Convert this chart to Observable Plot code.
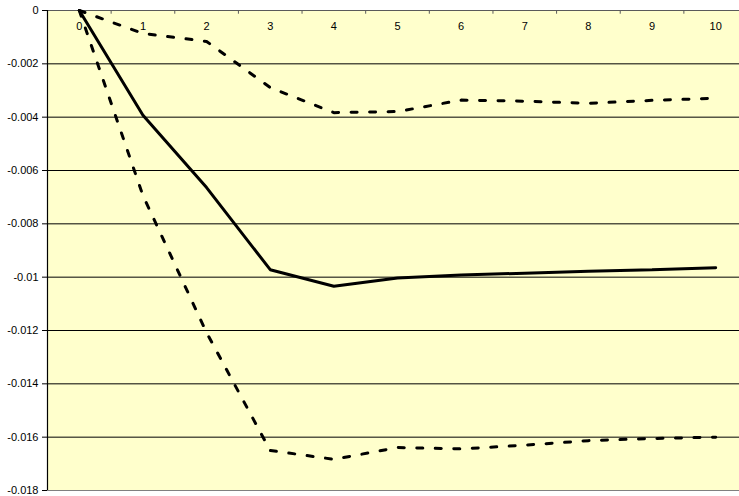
<!DOCTYPE html>
<html>
<head>
<meta charset="utf-8">
<script src="https://cdn.jsdelivr.net/npm/d3@7"></script>
<script src="https://cdn.jsdelivr.net/npm/@observablehq/plot@0.6"></script>
<style>
  html, body { margin: 0; padding: 0; background: #ffffff; }
  #chart svg { display: block; }
</style>
</head>
<body>
<div id="chart"></div>
<script>
// Periods (category axis at top)
const periods = [0, 1, 2, 3, 4, 5, 6, 7, 8, 9, 10];
const periodLabels = ["0", "1", "2", "3", "4", "5", "6", "7", "8", "9", "10"];
// Central response (solid)
const central = [0, -0.00393, -0.00664, -0.00972, -0.01034, -0.01003, -0.00992, -0.00985, -0.00978, -0.00972, -0.00965];
// Upper band (dashed)
const upper = [0, -0.00086, -0.00116, -0.00289, -0.00383, -0.00379, -0.00336, -0.0034, -0.00348, -0.00337, -0.00329];
// Lower band (dashed)
const lower = [0, -0.00694, -0.01208, -0.0165, -0.01683, -0.01639, -0.01644, -0.0163, -0.01613, -0.01605, -0.016];
// Y ticks
const yTicks = [0, -0.002, -0.004, -0.006, -0.008, -0.01, -0.012, -0.014, -0.016, -0.018];
const yTickLabels = ["0", "-0.002", "-0.004", "-0.006", "-0.008", "-0.01", "-0.012", "-0.014", "-0.016", "-0.018"];

const boundaries = periods.slice(0, -1).map(p => p + 0.5);
const gridTicks = yTicks.filter(v => v !== 0 && v !== -0.018);

const toRows = arr => periods.map((p, i) => ({x: p, y: arr[i]}));

const chart = Plot.plot({
  width: 739,
  height: 496,
  marginLeft: 47,
  marginRight: 0,
  marginTop: 10,
  marginBottom: 6,
  style: {fontFamily: "Arial, 'Liberation Sans', sans-serif", fontSize: "11px", color: "#000", background: "#ffffff"},
  x: {domain: [-0.5, 10.5], range: [47, 747], axis: null},
  y: {domain: [-0.018, 0], axis: null},
  marks: [
    Plot.frame({fill: "#FFFFCC", stroke: "none"}),
    Plot.ruleY(gridTicks, {stroke: "#000", strokeWidth: 1}),
    Plot.ruleY([-0.018], {stroke: "#808080", strokeWidth: 1}),
    Plot.ruleY([0], {stroke: "#5a5a5a", strokeWidth: 1.2}),
    Plot.ruleX(boundaries, {x: d => d, y1: 0, y2: -0.00014, stroke: "#5a5a5a", strokeWidth: 1}),
    Plot.ruleX([-0.5], {stroke: "#000", strokeWidth: 1.2}),
    Plot.axisY({ticks: yTicks, tickFormat: (d, i) => yTickLabels[yTicks.indexOf(d)], tickSize: 5, tickPadding: 4, stroke: "#000", fill: "#000", label: null}),
    Plot.text(periods, {x: d => d, y: 0, dy: 16, text: (d, i) => periodLabels[i], fill: "#000"}),
    Plot.line(toRows(upper), {x: "x", y: "y", stroke: "#000", strokeWidth: 3, strokeDasharray: "6,12.5", strokeLinejoin: "miter"}),
    Plot.line(toRows(lower), {x: "x", y: "y", stroke: "#000", strokeWidth: 3, strokeDasharray: "6,12.5", strokeLinejoin: "miter"}),
    Plot.line(toRows(central), {x: "x", y: "y", stroke: "#000", strokeWidth: 3, strokeLinejoin: "miter"})
  ]
});
document.getElementById("chart").appendChild(chart);
</script>
</body>
</html>
